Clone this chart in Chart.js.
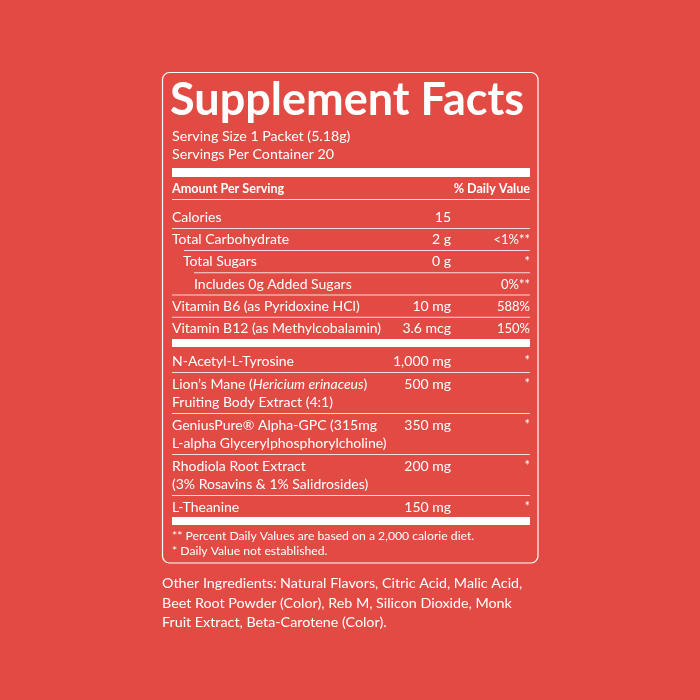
<!DOCTYPE html>
<html><head><meta charset="utf-8">
<script src="https://cdn.jsdelivr.net/npm/chart.js@4"></script>
<style>html,body{margin:0;background:#e24a44}#c{display:block}</style>
</head><body>
<div style="width:700px;height:700px"><canvas id="c" width="700" height="700"></canvas></div>
<script>
// label data
var titulo = "Supplement Facts";
var porcao = ["Serving Size 1 Packet (5.18g)", "Servings Per Container 20"];
var nutrientes = ["Calories", "Total Carbohydrate", "Total Sugars", "Includes 0g Added Sugars", "Vitamin B6 (as Pyridoxine HCl)", "Vitamin B12 (as Methylcobalamin)"];
var recuo = [0, 0, 1, 2, 0, 0];
var quantidades = ["15", "2 g", "0 g", "", "10 mg", "3.6 mcg"];
var valores_dv = ["", "<1%**", "*", "0%**", "588%", "150%"];
var ingredientes = [
  [[["N-Acetyl-L-Tyrosine", 0]]],
  [[["Lion\u2019s Mane (", 0], ["Hericium erinaceus", 1], [")", 0]], [["Fruiting Body Extract (4:1)", 0]]],
  [[["GeniusPure\u00ae Alpha-GPC (315mg", 0]], [["L-alpha Glycerylphosphorylcholine)", 0]]],
  [[["Rhodiola Root Extract", 0]], [["(3% Rosavins & 1% Salidrosides)", 0]]],
  [[["L-Theanine", 0]]]
];
var quantidades_ing = ["1,000 mg", "500 mg", "350 mg", "200 mg", "150 mg"];
var notas = ["** Percent Daily Values are based on a 2,000 calorie diet.", "* Daily Value not established."];
var outros = ["Other Ingredients: Natural Flavors, Citric Acid, Malic Acid,", "Beet Root Powder (Color), Reb M, Silicon Dioxide, Monk", "Fruit Extract, Beta-Carotene (Color)."];

var F = "Lato, 'Open Sans', sans-serif";

var rotulo = {
  id: "rotulo",
  afterDraw: function (chart) {
    var c = chart.ctx, X = chart.scales.x, Y = chart.scales.y;
    var px = function (v) { return X.getPixelForValue(v); };
    var py = function (v) { return Y.getPixelForValue(v); };
    c.save();
    c.fillStyle = "#fff"; c.strokeStyle = "#fff";
    // box
    c.lineWidth = 1.2;
    c.beginPath(); c.roundRect(px(162.5), py(72.5), px(538) - px(162.5), py(563) - py(72.5), 7); c.stroke();
    var txt = function (s, x, y, size, weight, align, style) {
      c.font = (style || "") + " " + (weight || 400) + " " + size + "px " + F;
      c.textAlign = align || "left"; c.textBaseline = "alphabetic";
      c.fillText(s, px(x), py(y));
    };
    var barra = function (y, h) { c.fillRect(px(172), py(y), px(530) - px(172), h); };
    var linha = function (x, y) { c.fillRect(px(x), py(y), px(530) - px(x), 0.8); };
    txt(titulo, 170, 115, 45, 700);
    porcao.forEach(function (s, i) { txt(s, 172, 141 + i * 18, 14.2); });
    barra(168, 9);
    txt("Amount Per Serving", 172, 193, 12.6, 700);
    txt("% Daily Value", 530, 193, 12.6, 700, "right");
    linha(172, 199);
    nutrientes.forEach(function (s, i) {
      var y = 222 + i * 22.2;
      txt(s, 172 + recuo[i] * 11, y, 14);
      txt(quantidades[i], 451, y, 14, 400, "right");
      txt(valores_dv[i], 530, y, 13, 400, "right");
      if (i < nutrientes.length - 1) linha(i == 1 ? 184 : (i == 2 ? 194 : 172), y + 6);
    });
    barra(339, 8);
    var y0 = 366;
    ingredientes.forEach(function (linhas, i) {
      linhas.forEach(function (segs, j) {
        var x = 172, y = y0 + j * 18;
        segs.forEach(function (sg) {
          c.font = (sg[1] ? "italic " : "") + "400 14px " + F;
          c.textAlign = "left";
          c.fillText(sg[0], px(x), py(y));
          x = X.getValueForPixel(px(x) + c.measureText(sg[0]).width);
        });
      });
      txt(quantidades_ing[i], 451, y0, 14, 400, "right");
      txt("*", 530, y0 - 1, 13, 400, "right");
      var fim = y0 + (linhas.length - 1) * 18 + 6;
      if (i < ingredientes.length - 1) linha(172, fim);
      y0 = fim + 17;
    });
    barra(517, 8);
    notas.forEach(function (s, i) { txt(s, 172, 540 + i * 14.5, 12.2); });
    outros.forEach(function (s, i) { txt(s, 162, 588 + i * 19.5, 14.3); });
    c.restore();
  }
};

new Chart(document.getElementById("c"), {
  type: "scatter",
  data: { datasets: [{ data: [] }] },
  options: {
    responsive: false, animation: false, devicePixelRatio: 1,
    layout: { padding: 0 },
    plugins: { legend: { display: false }, tooltip: { enabled: false } },
    scales: {
      x: { type: "linear", min: 0, max: 700, display: false },
      y: { type: "linear", min: 0, max: 700, reverse: true, display: false }
    }
  },
  plugins: [rotulo]
});
</script>
</body></html>
